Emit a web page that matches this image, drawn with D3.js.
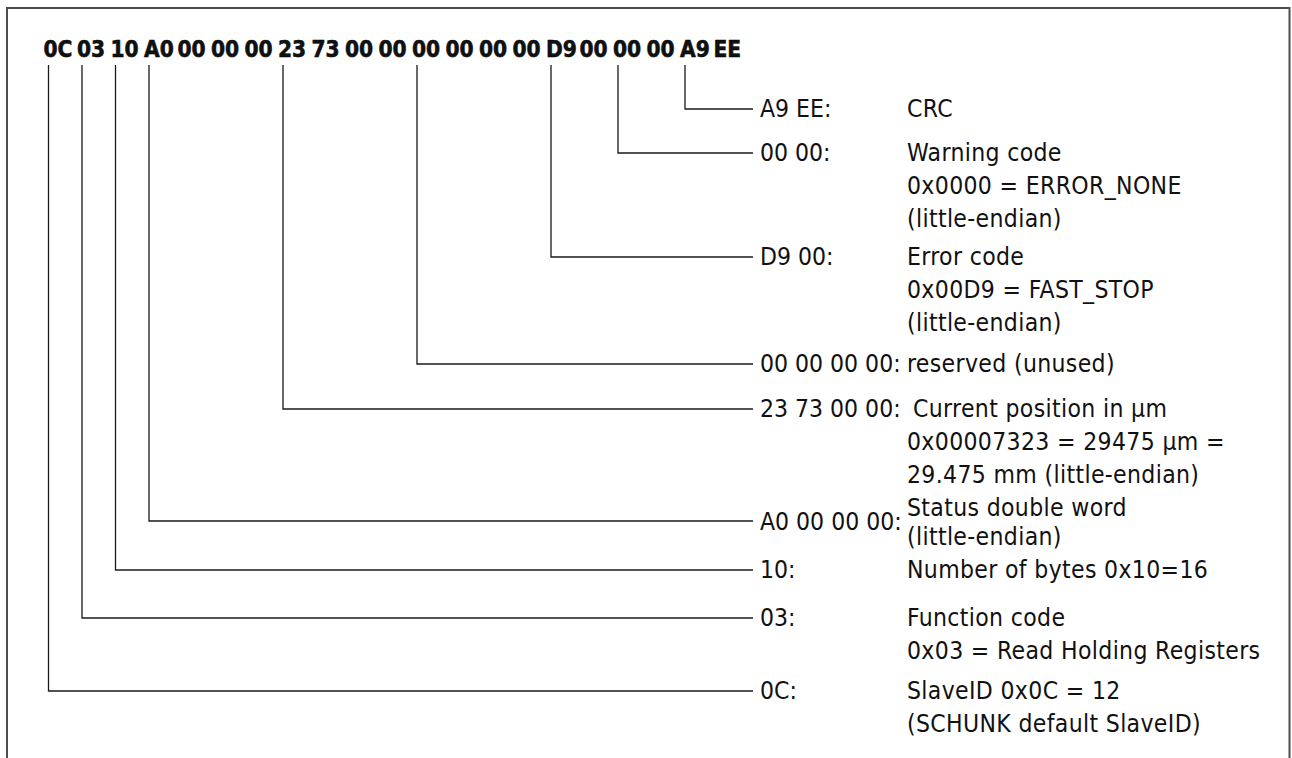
<!DOCTYPE html>
<html>
<head>
<meta charset="utf-8">
<script src="https://cdn.jsdelivr.net/npm/d3@7"></script>
<style>
  html, body { margin: 0; padding: 0; background: #fff; }
  svg { display: block; }
  text { font-family: "DejaVu Sans Condensed", "DejaVu Sans", sans-serif; font-stretch: condensed; fill: #111; }
</style>
</head>
<body>
<svg id="chart" width="1292" height="758"></svg>
<script>
// ---- data ----
const frameBytes = ["0C","03","10","A0","00","00","00","23","73","00","00","00","00","00","00","D9","00","00","00","A9","EE"];
const fieldByteIndex = [19, 17, 15, 11, 7, 3, 2, 1, 0];
const fieldLabels = ["A9 EE:", "00 00:", "D9 00:", "00 00 00 00:", "23 73 00 00:", "A0 00 00 00:", "10:", "03:", "0C:"];
const fieldDescriptions = [
  ["CRC"],
  ["Warning code", "0x0000 = ERROR_NONE", "(little-endian)"],
  ["Error code", "0x00D9 = FAST_STOP", "(little-endian)"],
  ["reserved (unused)"],
  ["Current position in µm", "0x00007323 = 29475 µm =", "29.475 mm (little-endian)"],
  ["Status double word", "(little-endian)"],
  ["Number of bytes 0x10=16"],
  ["Function code", "0x03 = Read Holding Registers"],
  ["SlaveID 0x0C = 12", "(SCHUNK default SlaveID)"]
];

// ---- layout ----
const W = 1292, H = 758;
const rowY = [109, 153, 257, 364, 409, 521, 570, 618, 691];   // connector levels
const labelDy = [8, 8, 8, 8, 8, 9, 8, 8, 8];                  // label baseline offset
const descDy = [8, 8, 8, 8, 8, -5, 8, 8, 8];                  // first description baseline offset
const descStep = [33, 33, 33, 33, 33, 29, 33, 33, 33];
const descIndent = [0, 0, 0, 0, 6, 0, 0, 0, 0];
const hexBaseline = 57, lineTop = 65, lineEnd = 753, labelX = 760, descX = 907;

const svg = d3.select("#chart");

// frame (open at bottom)
svg.append("path")
  .attr("d", `M7,${H + 2}V8H1289.5V${H + 2}`)
  .attr("fill", "none")
  .attr("stroke", "#4d4d4d")
  .attr("stroke-width", 2);

// byte position scale
const xByte = d3.scaleLinear().domain([0, frameBytes.length - 1]).range([43.5, 43.5 + 33.5 * (frameBytes.length - 1)]);
const lineOffset = 5;

// hex frame
svg.append("g").selectAll("text")
  .data(frameBytes)
  .join("text")
  .attr("x", (d, i) => xByte(i))
  .attr("y", hexBaseline)
  .attr("font-size", 22.5)
  .attr("font-weight", "bold")
  .attr("fill", "#000")
  .attr("stroke", "#000")
  .attr("stroke-width", 0.5)
  .text(d => d);

const rows = fieldLabels.map((label, i) => ({
  label, idx: fieldByteIndex[i], desc: fieldDescriptions[i],
  y: rowY[i], ldy: labelDy[i], ddy: descDy[i], step: descStep[i], indent: descIndent[i]
}));

// connectors
svg.append("g").selectAll("path")
  .data(rows)
  .join("path")
  .attr("d", d => {
    const x = xByte(d.idx) + lineOffset;
    return `M${x},${lineTop}V${d.y}H${lineEnd}`;
  })
  .attr("fill", "none")
  .attr("stroke", "#1a1a1a")
  .attr("stroke-width", 1.3);

// labels
svg.append("g").selectAll("text")
  .data(rows)
  .join("text")
  .attr("x", labelX)
  .attr("y", d => d.y + d.ldy)
  .attr("font-size", 24.5)
  .text(d => d.label);

// descriptions
const dg = svg.append("g").selectAll("g")
  .data(rows)
  .join("g");
dg.selectAll("text")
  .data(d => d.desc.map((t, j) => ({ t, y: d.y + d.ddy + j * d.step, dx: j === 0 ? d.indent : 0 })))
  .join("text")
  .attr("x", d => descX + d.dx)
  .attr("y", d => d.y)
  .attr("font-size", 24.5)
  .attr("letter-spacing", 0.35)
  .text(d => d.t);
</script>
</body>
</html>
